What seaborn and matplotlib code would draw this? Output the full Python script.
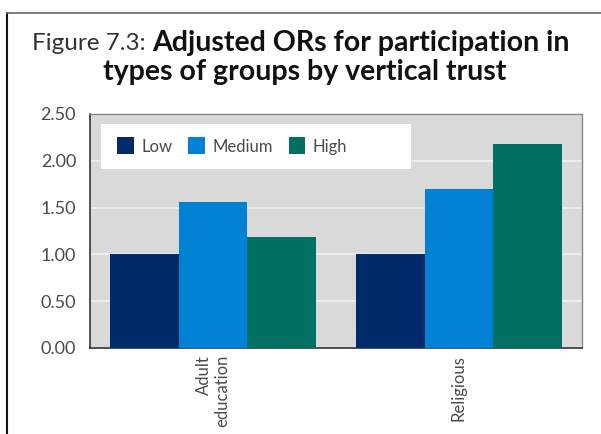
import pandas as pd
import matplotlib
matplotlib.use("Agg")
import matplotlib.pyplot as plt
import seaborn as sns
from matplotlib.lines import Line2D
from matplotlib.patches import Rectangle

# Data
groups = ["Adult\neducation", "Religious"]
trust_levels = ["Low", "Medium", "High"]
low_vals = [1.00, 1.00]
medium_vals = [1.56, 1.70]
high_vals = [1.19, 2.18]
y_ticks = [0.0, 0.5, 1.0, 1.5, 2.0, 2.5]

colors = ["#002a6a", "#0081d3", "#007062"]

df = pd.DataFrame({
    "group": groups * 3,
    "trust": [t for t in trust_levels for _ in groups],
    "value": low_vals + medium_vals + high_vals,
})

sns.set_style("white")
plt.rcParams["font.family"] = ["Lato", "DejaVu Sans"]

fig = plt.figure(figsize=(6.01, 4.34), dpi=100)
ax = fig.add_axes([90 / 601, 86 / 434, 492 / 601, 234 / 434])
ax.set_facecolor("#d9d9d9")

sns.barplot(data=df, x="group", y="value", hue="trust", order=groups,
            hue_order=trust_levels, palette=colors, width=0.84,
            saturation=1, linewidth=0, ax=ax, zorder=3)

ax.set_ylim(0, 2.5)
ax.set_xlim(-0.5, 1.5)
ax.set_yticks(y_ticks)
ax.set_yticklabels([f"{v:.2f}" for v in y_ticks], fontsize=13, color="#4a4a4a")
ax.yaxis.grid(True, color="#f0f0f0", linewidth=1.2, zorder=0)
ax.set_axisbelow(True)

# category boundary ticks on x, labels centred under the groups
ax.set_xticks([-0.5, 0.5, 1.5])
ax.set_xticklabels([])
ax.set_xticks([0, 1], minor=True)
ax.set_xticklabels(groups, minor=True, rotation=90, fontsize=12, color="#4a4a4a",
                   va="top", ha="center", multialignment="right")
ax.tick_params(axis="x", which="minor", length=0, pad=5)
ax.tick_params(axis="x", which="major", direction="out", length=7, width=1, color="#333333")
ax.tick_params(axis="y", direction="out", length=8, width=1, color="#333333", pad=2)
ax.set_xlabel("")
ax.set_ylabel("")

for side in ["left", "bottom"]:
    ax.spines[side].set_color("#333333")
    ax.spines[side].set_linewidth(1.2)
for side in ["top", "right"]:
    ax.spines[side].set_color("#888888")
    ax.spines[side].set_linewidth(1.0)

# white legend panel, wider than its entries
ax.add_patch(Rectangle((11 / 492, (348 - 169) / 234), 310 / 492, 45 / 234,
                       transform=ax.transAxes, facecolor="white", edgecolor="none",
                       zorder=4))
leg = ax.legend(loc="center left", bbox_to_anchor=(27 / 492, (348 - 147) / 234), ncol=3,
                frameon=False, borderaxespad=0, borderpad=0, handlelength=1.0,
                handleheight=1.0, handletextpad=0.45, columnspacing=0.95, fontsize=12)
leg.set_zorder(5)
for h in leg.legend_handles:
    h.set_width(12)
    h.set_height(12)
for t in leg.get_texts():
    t.set_color("#4a4a4a")

# title with light prefix and bold remainder
fig.text(152 / 601, 1 - 43 / 434, "Figure 7.3: ", ha="right", va="center",
         fontsize=17.5, color="#333333")
fig.text(152 / 601, 1 - 43 / 434, "Adjusted ORs for participation in", ha="left",
         va="center", fontsize=20.5, fontweight="bold", color="#111111")
fig.text(305 / 601, 1 - 72 / 434, "types of groups by vertical trust", ha="center",
         va="center", fontsize=20.5, fontweight="bold", color="#111111")

# page frame lines
fig.add_artist(Line2D([7 / 601, 7 / 601], [0, 1 - 13 / 434], transform=fig.transFigure,
                      color="#111111", linewidth=1.5))
fig.add_artist(Line2D([7 / 601, 1], [1 - 13 / 434, 1 - 13 / 434], transform=fig.transFigure,
                      color="#666666", linewidth=1.2))

fig.savefig("out.png", dpi=100)
